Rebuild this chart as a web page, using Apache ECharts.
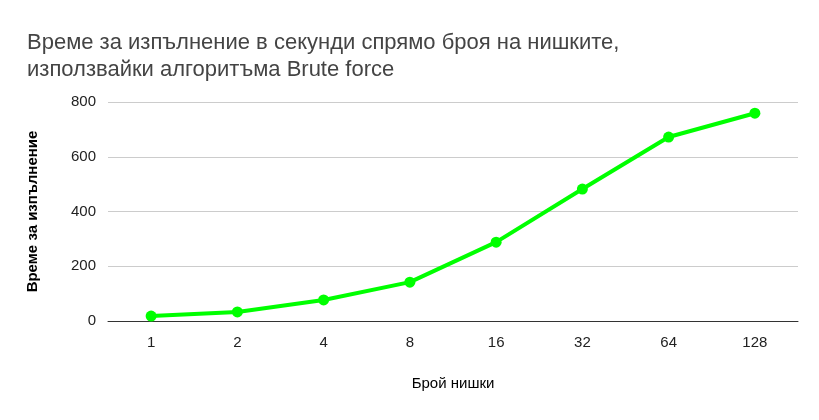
<!DOCTYPE html>
<html>
<head>
<meta charset="utf-8">
<script src="https://cdn.jsdelivr.net/npm/echarts@6/dist/echarts.min.js"></script>
<style>html,body{margin:0;padding:0;background:#fff}#chart{width:819px;height:420px}</style>
</head>
<body>
<div id="chart"></div>
<script>
// данни
var categories = ['1', '2', '4', '8', '16', '32', '64', '128'];
var values = [18, 33, 77, 142, 288, 482, 672, 759];

var font = 'Liberation Sans, Arial, sans-serif';
var myChart = echarts.init(document.getElementById('chart'));
var option = {
    title: {
        text: 'Време за изпълнение в секунди спрямо броя на нишките,\nизползвайки алгоритъма Brute force',
        left: 22,
        top: 24,
        textStyle: { fontFamily: font, fontSize: 22, fontWeight: 'normal', color: '#444', lineHeight: 27 }
    },
    grid: { left: 108, right: 21, top: 102, bottom: 99 },
    xAxis: {
        type: 'category',
        data: categories,
        name: 'Брой нишки',
        nameLocation: 'middle',
        nameGap: 55,
        nameTextStyle: { fontFamily: font, fontSize: 15, color: '#000' },
        axisTick: { show: false },
        axisLine: { lineStyle: { color: '#333' } },
        axisLabel: { fontFamily: font, fontSize: 15, color: '#222', margin: 14 }
    },
    yAxis: {
        type: 'value',
        min: 0,
        max: 800,
        interval: 200,
        name: 'Време за изпълнение',
        nameLocation: 'middle',
        nameGap: 68,
        nameTextStyle: { fontFamily: font, fontSize: 15, fontWeight: 'bold', color: '#000' },
        axisLabel: { fontFamily: font, fontSize: 15, color: '#222', margin: 12 },
        splitLine: { lineStyle: { color: '#ccc' } }
    },
    series: [{
        type: 'line',
        data: values,
        color: '#00ff00',
        lineStyle: { width: 4 },
        symbol: 'circle',
        symbolSize: 11
    }]
};
myChart.setOption(option);
</script>
</body>
</html>
